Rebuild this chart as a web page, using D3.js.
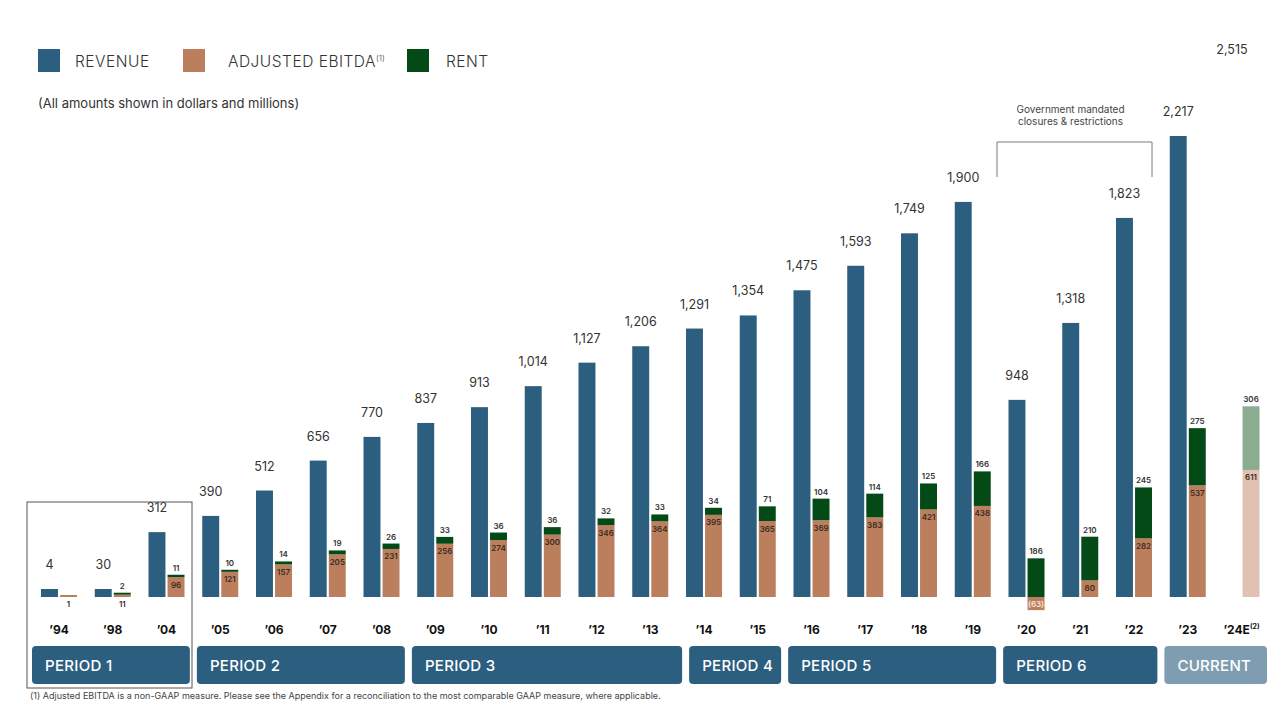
<!DOCTYPE html>
<html>
<head>
<meta charset="utf-8">
<script src="https://cdn.jsdelivr.net/npm/d3@7/dist/d3.min.js"></script>
<style>
  html, body { margin: 0; padding: 0; background: #fff; }
  svg { display: block; font-family: Inter, "Open Sans", sans-serif; }
</style>
</head>
<body>
<svg id="chart" width="1280" height="701"></svg>
<script>
// ---------- data ----------
const years   = ["’94","’98","’04","’05","’06","’07","’08","’09","’10","’11","’12","’13","’14","’15","’16","’17","’18","’19","’20","’21","’22","’23","’24E"];
const revenue = [4, 30, 312, 390, 512, 656, 770, 837, 913, 1014, 1127, 1206, 1291, 1354, 1475, 1593, 1749, 1900, 948, 1318, 1823, 2217, 2515];
const ebitda  = [1, 11, 96, 121, 157, 205, 231, 256, 274, 300, 346, 364, 395, 365, 369, 383, 421, 438, -63, 80, 282, 537, 611];
const rent    = [null, 2, 11, 10, 14, 19, 26, 33, 36, 36, 32, 33, 34, 71, 104, 114, 125, 166, 186, 210, 245, 275, 306];
const estimated = ["’24E"];

const periodLabels = ["PERIOD 1","PERIOD 2","PERIOD 3","PERIOD 4","PERIOD 5","PERIOD 6","CURRENT"];
const periodStart  = ["’94","’05","’09","’14","’16","’20","’23"];
const periodEnd    = ["’04","’08","’13","’15","’19","’22","’24E"];

const legendLabels = ["REVENUE","ADJUSTED EBITDA","RENT"];
const closureYears = ["’20","’22"];
const closureText  = ["Government mandated","closures & restrictions"];

// ---------- style ----------
const C = {
  rev: "#2c5f7f", eb: "#bb7f5e", rent: "#034a17",
  ebEst: "#e0c1b3", rentEst: "#8aad91",
  period: "#2c5f7f", current: "#7f9db1",
  text: "#333333"
};

const svg = d3.select("#chart");
const fmt = d3.format(",");

const x = d3.scalePoint().domain(years).range([59, 1241.5]);
const inner = d3.scaleBand().domain(["rev","eb"]).range([-18, 18]).paddingInner(0.11);
const y = d3.scaleLinear().domain([0, 2217]).range([597, 136]);
const bw = inner.bandwidth();

// ---------- legend ----------
const legendX = [38, 183, 407];
const legendTextX = [75, 228, 446];
const legendColors = [C.rev, C.eb, C.rent];
const lg = svg.append("g");
legendLabels.forEach((lab, i) => {
  lg.append("rect").attr("x", legendX[i]).attr("y", 49).attr("width", 22).attr("height", 23)
    .attr("fill", legendColors[i]);
  const t = lg.append("text").attr("x", legendTextX[i]).attr("y", 67)
    .attr("font-size", 15.5).attr("font-weight", 300).attr("fill", C.text)
    .attr("letter-spacing", 0.5).text(lab);
  if (i === 1) {
    t.append("tspan").attr("font-size", 8).attr("dy", -6).attr("letter-spacing", 0).text("(1)");
  }
});
svg.append("text").attr("x", 38).attr("y", 108).attr("font-size", 13).attr("fill", C.text)
  .text("(All amounts shown in dollars and millions)");

// ---------- bars ----------
const data = years.map((yr, i) => ({ yr, rev: revenue[i], eb: ebitda[i], rent: rent[i], est: estimated.includes(yr) }));
const g = svg.append("g");

data.forEach(d => {
  const cx = x(d.yr);
  const rx = cx + inner("rev");
  const ex = cx + inner("eb");
  // revenue
  const rh = Math.max(y(0) - y(d.rev), 8);
  const rTop = y(0) - rh;
  if (!d.est) {
    g.append("rect").attr("x", rx).attr("y", rTop).attr("width", bw).attr("height", rh)
      .attr("fill", C.rev);
  }
  g.append("text").attr("x", rx + bw / 2).attr("y", rTop - 20).attr("text-anchor", "middle")
    .attr("font-size", 12.5).attr("fill", C.text).text(fmt(d.rev));

  // ebitda
  let ebTop;
  if (d.eb >= 0) {
    const eh = Math.max(y(0) - y(d.eb), 2);
    ebTop = y(0) - eh;
    g.append("rect").attr("x", ex).attr("y", ebTop).attr("width", bw).attr("height", eh)
      .attr("fill", d.est ? C.ebEst : C.eb);
    const inside = eh >= 10;
    g.append("text").attr("x", ex + bw / 2).attr("y", inside ? ebTop + 10.5 : y(0) + 10)
      .attr("text-anchor", "middle").attr("font-size", 8).attr("font-weight", 600)
      .attr("fill", "#3b2c22").text(fmt(d.eb));
  } else {
    ebTop = y(0);
    const eh = y(d.eb) - y(0);
    g.append("rect").attr("x", ex).attr("y", y(0)).attr("width", bw).attr("height", eh)
      .attr("fill", d.est ? C.ebEst : C.eb);
    g.append("text").attr("x", ex + bw / 2).attr("y", y(d.eb) - 3)
      .attr("text-anchor", "middle").attr("font-size", 8).attr("font-weight", 600)
      .attr("fill", "#f6e8df").text("(" + fmt(-d.eb) + ")");
  }

  // rent
  if (d.rent != null) {
    const h = Math.max(y(0) - y(d.rent), 2);
    const top = ebTop - h;
    g.append("rect").attr("x", ex).attr("y", top).attr("width", bw).attr("height", h)
      .attr("fill", d.est ? C.rentEst : C.rent);
    g.append("text").attr("x", ex + bw / 2).attr("y", top - 4)
      .attr("text-anchor", "middle").attr("font-size", 8).attr("font-weight", 600)
      .attr("fill", C.text).text(fmt(d.rent));
  }

  // year label
  const t = g.append("text").attr("x", cx).attr("y", 634).attr("text-anchor", "middle")
    .attr("font-size", 12).attr("font-weight", 700).attr("fill", "#111");
  if (d.yr.endsWith("E")) {
    t.append("tspan").text(d.yr);
    t.append("tspan").attr("font-size", 7).attr("dy", -5).text("(2)");
  } else {
    t.text(d.yr);
  }
});

// ---------- closure bracket ----------
const bx0 = x(closureYears[0]) - 29.5;
const bx1 = x(closureYears[1]) + inner("eb") + bw;
svg.append("path")
  .attr("d", `M${bx0},177 V142 H${bx1} V177`)
  .attr("fill", "none").attr("stroke", "#7a7a7a").attr("stroke-width", 1);
closureText.forEach((s, i) => {
  svg.append("text").attr("x", (bx0 + bx1) / 2 - 4).attr("y", 113 + i * 12)
    .attr("text-anchor", "middle").attr("font-size", 10).attr("fill", "#444").text(s);
});

// ---------- period boxes ----------
const step = x.step();
// the divider between periods 3 and 4 sits a little to the right in the original
const dividerShift = { 2: 8.5, 3: 8.5 };
const pg = svg.append("g");
periodLabels.forEach((lab, i) => {
  const s = x(periodStart[i]), e = x(periodEnd[i]);
  let x0 = i === 0 ? s - 27 : s - step / 2 + 3.5;
  let x1 = i === periodLabels.length - 1 ? e + 25.5 : e + step / 2 - 3.5;
  if (i === 2) x1 += dividerShift[2];
  if (i === 3) x0 += dividerShift[3];
  pg.append("rect").attr("x", x0).attr("y", 646).attr("width", x1 - x0).attr("height", 38)
    .attr("rx", 4).attr("fill", lab === "CURRENT" ? C.current : C.period);
  pg.append("text").attr("x", x0 + 13).attr("y", 670.5).attr("font-size", 15)
    .attr("font-weight", 500).attr("fill", "#fff").attr("letter-spacing", 0.3).text(lab);
});

// period 1 outline
const o0 = x(periodStart[0]) - 32, o1 = x(periodEnd[0]) + 25.5;
svg.append("rect").attr("x", o0).attr("y", 502).attr("width", o1 - o0).attr("height", 186)
  .attr("fill", "none").attr("stroke", "#555").attr("stroke-width", 1);

// footnote
svg.append("text").attr("x", 30).attr("y", 699).attr("font-size", 9).attr("fill", "#444")
  .text("(1) Adjusted EBITDA is a non-GAAP measure. Please see the Appendix for a reconciliation to the most comparable GAAP measure, where applicable.");
</script>
</body>
</html>
